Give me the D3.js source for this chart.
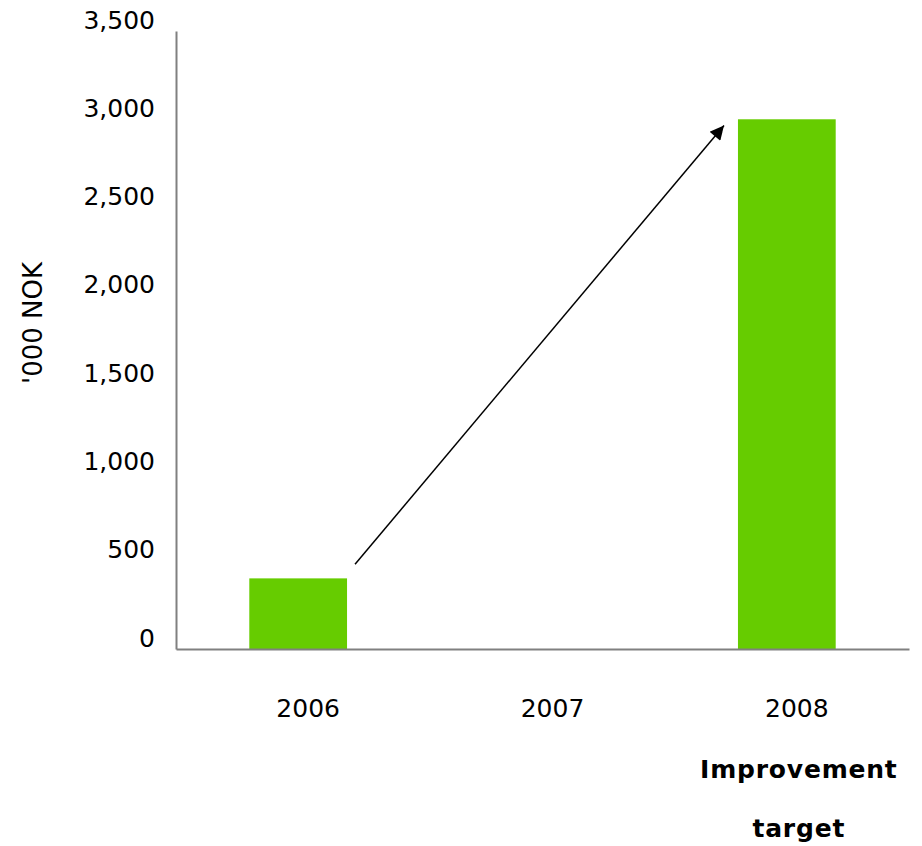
<!DOCTYPE html>
<html>
<head>
<meta charset="utf-8">
<script src="https://cdn.jsdelivr.net/npm/d3@7"></script>
<style>
  body { margin: 0; background: #fff; }
  svg text { font-family: Verdana, "DejaVu Sans", sans-serif; fill: #000; }
</style>
</head>
<body>
<div id="chart"></div>
<script>
// data
var years = ['2006', '2007', '2008'];
var values = [400, null, 3000];
var yTicks = [0, 500, 1000, 1500, 2000, 2500, 3000, 3500];
var yLabel = "'000 NOK";
var noteLines = ['Improvement', 'target'];
// arrow from 2006 towards 2008 target (values in NOK '000)
var arrowFrom = ['2006', 480];
var arrowTo = ['2008', 2965];

(function(){
    var W = 922, H = 846;
    var margin = {left: 176, right: 13, top: 31, bottom: 197};

    var svg = d3.select('#chart').append('svg')
        .attr('width', W).attr('height', H);

    var x = d3.scaleBand().domain(years)
        .range([margin.left, W - margin.right])
        .paddingInner(0.6).paddingOuter(0.3);
    var y = d3.scaleLinear().domain([0, 3500])
        .range([H - margin.bottom, margin.top]);

    // bars
    svg.selectAll('rect.bar')
        .data(years.map(function(d, i){ return {year: d, v: values[i]}; })
            .filter(function(d){ return d.v != null; }))
        .enter().append('rect')
        .attr('class', 'bar')
        .attr('x', function(d){ return x(d.year); })
        .attr('width', x.bandwidth())
        .attr('y', function(d){ return y(d.v); })
        .attr('height', function(d){ return y(0) - y(d.v); })
        .attr('fill', '#66cc00');

    // y axis
    var yAxis = d3.axisLeft(y).tickValues(yTicks)
        .tickSize(0).tickPadding(21)
        .tickFormat(d3.format(','));
    var gy = svg.append('g').attr('transform', 'translate(' + margin.left + ',0)').call(yAxis);
    gy.select('.domain').attr('stroke', '#808080').attr('stroke-width', 2);
    gy.selectAll('text').attr('font-size', 25).attr('dy', '-0.12em')
        .style('font-family', 'Verdana, "DejaVu Sans", sans-serif');

    // x axis
    var xAxis = d3.axisBottom(x).tickSize(0).tickPadding(50);
    var gx = svg.append('g').attr('transform', 'translate(0,' + y(0) + ')').call(xAxis);
    gx.select('.domain').attr('stroke', '#808080').attr('stroke-width', 2);
    gx.selectAll('text').attr('font-size', 25).attr('dx', 10)
        .style('font-family', 'Verdana, "DejaVu Sans", sans-serif');

    // y label
    svg.append('text')
        .attr('transform', 'translate(42,' + 323 + ') rotate(-90)')
        .attr('text-anchor', 'middle')
        .attr('font-size', 26)
        .text(yLabel);

    // note under 2008
    svg.selectAll('text.note').data(noteLines).enter().append('text')
        .attr('class', 'note')
        .attr('x', x('2008') + x.bandwidth() / 2 + 12)
        .attr('y', function(d, i){ return 778 + i * 59; })
        .attr('text-anchor', 'middle')
        .attr('font-size', 25)
        .attr('font-weight', 'bold')
        .attr('letter-spacing', 0.8)
        .text(function(d){ return d; });

    // arrow
    svg.append('defs').append('marker')
        .attr('id', 'head').attr('viewBox', '0 0 10 10')
        .attr('refX', 10).attr('refY', 5)
        .attr('markerWidth', 20).attr('markerHeight', 14)
        .attr('markerUnits', 'userSpaceOnUse')
        .attr('orient', 'auto')
        .append('path').attr('d', 'M0,0L10,5L0,10z').attr('fill', '#000');

    svg.append('line')
        .attr('x1', x(arrowFrom[0]) + x.bandwidth() + 8)
        .attr('y1', y(arrowFrom[1]))
        .attr('x2', x(arrowTo[0]) - 14)
        .attr('y2', y(arrowTo[1]))
        .attr('stroke', '#000').attr('stroke-width', 1.5)
        .attr('marker-end', 'url(#head)');
})();
</script>
</body>
</html>
